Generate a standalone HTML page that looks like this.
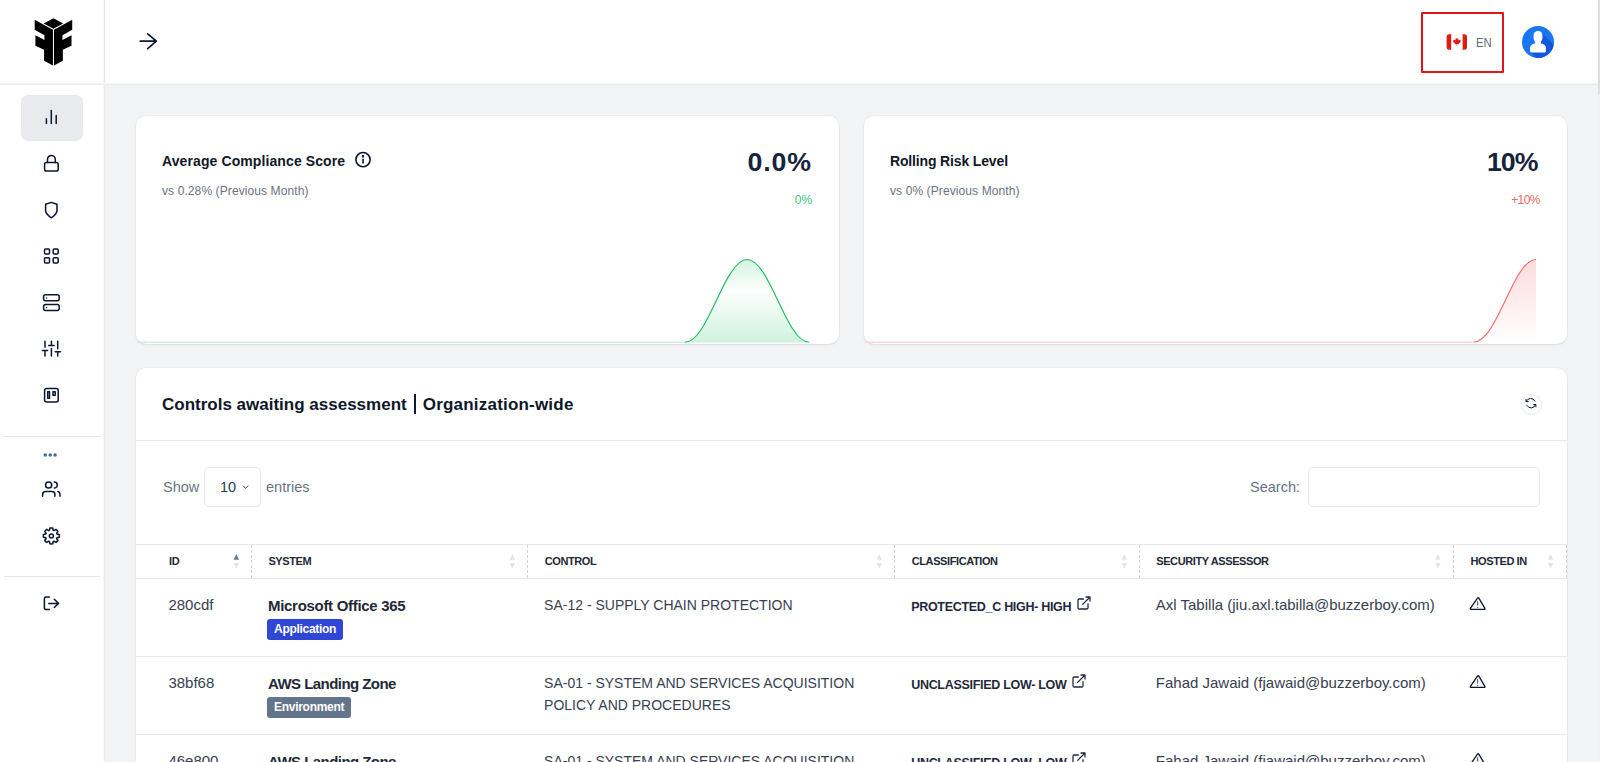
<!DOCTYPE html>
<html><head><meta charset="utf-8">
<style>
*{box-sizing:border-box;margin:0;padding:0}
html,body{width:1600px;height:762px;overflow:hidden}
body{background:#f2f3f5;font-family:"Liberation Sans",sans-serif;color:#111827;position:relative}
.abs{position:absolute}
.ico{position:absolute;fill:none;stroke:#0b1530;stroke-width:1.5;stroke-linecap:round;stroke-linejoin:round}
.card{position:absolute;background:#fff;border-radius:10px;box-shadow:0 0 0 1px rgba(15,23,42,0.025),0 1px 2px rgba(15,23,42,0.08)}
.t{position:absolute;white-space:nowrap;line-height:1}
.ext{display:inline-block;vertical-align:top;margin-top:-5.1px;margin-left:4.5px;fill:none;stroke:#1e293b;stroke-width:1.9;stroke-linecap:round;stroke-linejoin:round}
.badge{position:absolute;height:21px;padding:0 7px 0 6.8px;border-radius:3px;color:#fff;font-size:12px;font-weight:bold;line-height:21px;white-space:nowrap;letter-spacing:-0.3px}
</style></head><body>

<div class="abs" style="left:0;top:0;width:1600px;height:83px;background:#fff"></div>
<div class="abs" style="left:0;top:0;width:103px;height:762px;background:#fff"></div>
<div class="abs" style="left:103px;top:0;width:1px;height:762px;background:#f4f5f7"></div>
<div class="abs" style="left:104px;top:0;width:1px;height:762px;background:#e9eaee"></div>
<div class="abs" style="left:0;top:83px;width:1600px;height:1px;background:#f5f6f8"></div>
<div class="abs" style="left:0;top:84px;width:1600px;height:1px;background:#ebecf0"></div>
<div class="abs" style="left:4px;top:436px;width:96px;height:1px;background:#e5e7eb"></div>
<div class="abs" style="left:4px;top:576px;width:96px;height:1px;background:#e5e7eb"></div>
<div class="abs" style="left:21px;top:95px;width:62px;height:46px;background:#e9eaee;border-radius:7px"></div>
<svg class="abs" style="left:30px;top:15px" width="48" height="55" viewBox="0 0 665 762">
<g fill="#000">
<polygon points="325,45 460,118 325,190 190,118"/>
<polygon points="65,65 318,205 318,700 195,635 195,480 75,425 75,280 200,345 200,280 65,205"/>
<polygon points="585,65 332,205 332,700 455,635 455,480 575,425 575,280 450,345 450,280 585,205"/>
</g></svg>
<svg class="ico" style="left:0;top:0" width="104" height="762" viewBox="0 0 104 762">
<path d="M46.4 118.7V123.5M51.3 110.6V123.5M56.2 115.4V123.5"/>
<rect x="44.6" y="162.6" width="13.6" height="8.5" rx="1.8"/>
<path d="M47.5 162.6V159.4a3.9 3.9 0 0 1 7.8 0V162.6"/>
<path d="M51.3 202.4L45.6 204.3V211Q46.5 214.8 51.3 217.8Q56.1 214.8 57 211V204.3Z"/>
<rect x="44.5" y="248.9" width="5" height="5.1" rx="1"/>
<rect x="53.2" y="248.9" width="5" height="5.1" rx="1"/>
<rect x="44.5" y="257.7" width="5" height="5.3" rx="1"/>
<rect x="53.2" y="257.7" width="5" height="5.3" rx="1"/>
<rect x="43.6" y="294.8" width="15.6" height="6" rx="2"/>
<rect x="43.6" y="304.6" width="15.6" height="5.8" rx="2"/>
<path d="M46.5 298h0.05M46.5 307.5h0.05"/>
<path d="M45 341.2V347.2M45 350.4V356M42.4 350.4H47.6M51.4 341.2V345.4M51.4 348.6V356M48.7 345.4H54.1M57.7 341.2V348.7M57.7 351.8V356M55.3 351.8H60.5"/>
<rect x="44.6" y="388.6" width="13.6" height="13.5" rx="2"/>
<rect x="47.7" y="391.7" width="1.8" height="6.5"/>
<rect x="53" y="391.7" width="2.2" height="3.6"/>
<circle cx="48.6" cy="485" r="3.1"/>
<path d="M54.2 481.9a3.1 3.1 0 0 1 0 6.2"/>
<path d="M42.6 496.3v-1.7a3 3 0 0 1 3-3h6.3a3 3 0 0 1 3 3v1.7"/>
<path d="M57.8 491.6a2.8 2.8 0 0 1 2.2 2.8v1.9"/>
<path d="M49.43 530.32L49.96 528.02A8.00 8.00 0 0 1 52.74 528.02L53.27 530.32A5.90 5.90 0 0 1 53.94 530.60L55.94 529.35A8.00 8.00 0 0 1 57.90 531.31L56.65 533.31A5.90 5.90 0 0 1 56.93 533.98L59.23 534.51A8.00 8.00 0 0 1 59.23 537.29L56.93 537.82A5.90 5.90 0 0 1 56.65 538.49L57.90 540.49A8.00 8.00 0 0 1 55.94 542.45L53.94 541.20A5.90 5.90 0 0 1 53.27 541.48L52.74 543.78A8.00 8.00 0 0 1 49.96 543.78L49.43 541.48A5.90 5.90 0 0 1 48.76 541.20L46.76 542.45A8.00 8.00 0 0 1 44.80 540.49L46.05 538.49A5.90 5.90 0 0 1 45.77 537.82L43.47 537.29A8.00 8.00 0 0 1 43.47 534.51L45.77 533.98A5.90 5.90 0 0 1 46.05 533.31L44.80 531.31A8.00 8.00 0 0 1 46.76 529.35L48.76 530.60A5.90 5.90 0 0 1 49.43 530.32Z"/>
<circle cx="51.35" cy="535.9" r="2"/>
<path d="M49.4 597.1H46a1.6 1.6 0 0 0-1.6 1.6V608a1.6 1.6 0 0 0 1.6 1.6h3.4M48.8 603.4H58.5M54.3 599.3L58.5 603.4L54.3 607.5"/>
</svg>
<svg class="abs" style="left:0;top:440px" width="104" height="30"><g fill="#4d6a99"><circle cx="45.25" cy="15" r="1.75"/><circle cx="50.2" cy="15" r="1.75"/><circle cx="55.1" cy="15" r="1.75"/></g></svg>
<svg class="ico" style="left:136px;top:29px;stroke-width:1.7" width="24" height="24" viewBox="0 0 24 24"><path d="M4.3 12.2H20.3M11.7 4.9L20.3 12.2L11.7 19.6"/></svg>
<div class="abs" style="left:1421px;top:12px;width:83px;height:61px;border:2.5px solid #e0151b;border-radius:1px"></div>
<svg class="abs" style="left:1445.5px;top:34px" width="22" height="16" viewBox="0 0 22 16">
<path d="M5.2 0.3H3.2Q0.6 0.3 0.6 3V13Q0.6 15.7 3.2 15.7H5.2Z" fill="#dd1c14"/>
<path d="M16.6 0.3H18.4Q21 0.3 21 3V13Q21 15.7 18.4 15.7H16.6Z" fill="#dd1c14"/>
<path d="M10.8 3.4l0.8 1.6 0.9-0.4-0.3 2 1.2-1 0.3 0.7 1.1-0.2-0.5 1.4 0.5 0.3-2 1.6 0.3 0.8-1.9-0.3v1.9h-0.6v-1.9l-1.9 0.3 0.3-0.8-2-1.6 0.5-0.3-0.5-1.4 1.1 0.2 0.3-0.7 1.2 1-0.3-2 0.9 0.4z" fill="#dd1c14"/>
</svg>
<div class="t" style="left:1476px;top:35.9px;font-size:13px;color:#5d6877;transform:scaleX(0.87);transform-origin:0 0;">EN</div>
<svg class="abs" style="left:1522.25px;top:25.8px" width="32" height="32" viewBox="0 0 32 32">
<defs><clipPath id="cc"><circle cx="16" cy="16" r="16"/></clipPath></defs>
<circle cx="16" cy="16" r="16" fill="#1a76f0"/>
<path clip-path="url(#cc)" d="M19.8 7L45 32.2L30 47.2L9 26.6Z" fill="#1556dc"/>
<path d="M16 5.1C13.2 5.1 11.5 7 11.5 10C11.5 12.5 11.9 14.5 13.2 16L13.2 17.3C10 18 8 19.5 8 22V25C8 26 9 26.6 10 26.6H22C23 26.6 24 26 24 25V22C24 19.5 22 18 18.8 17.3L18.8 16C20.1 14.5 20.5 12.5 20.5 10C20.5 7 18.8 5.1 16 5.1Z" fill="#fff"/>
</svg>
<div class="card" style="left:136px;top:116px;width:703px;height:228px"></div>
<svg class="abs" style="left:136px;top:250px" width="703" height="94" viewBox="136 250 703 94">
<defs>
<linearGradient id="gg" x1="0" y1="259" x2="0" y2="343" gradientUnits="userSpaceOnUse">
<stop offset="0" stop-color="#22c55e" stop-opacity="0.20"/>
<stop offset="0.38" stop-color="#22c55e" stop-opacity="0.01"/>
<stop offset="1" stop-color="#22c55e" stop-opacity="0.22"/>
</linearGradient></defs>
<path d="M685 342.5C708.1 342.5 724.3 259.5 747.1 259.5C769.9 259.5 786.1 342.5 809.2 342.5Z" fill="url(#gg)"/>
<rect x="137" y="341.6" width="548.5" height="1.2" fill="#c3ead1"/>
<path d="M685 342.2C708.1 342.2 724.3 259.5 747.1 259.5C769.9 259.5 786.1 342.2 809.2 342.2" fill="none" stroke="#1fbb62" stroke-width="1.15"/>
</svg>
<div class="t" style="left:162px;top:153.95px;font-size:14px;font-weight:bold;color:#111827;letter-spacing:0.1px;">Average Compliance Score</div>
<svg class="abs" style="left:354px;top:150.5px" width="18" height="18" viewBox="0 0 18 18" fill="none" stroke="#0b1530" stroke-width="1.6"><circle cx="9" cy="8.6" r="7.1"/><path d="M9 8.3V11.9" stroke-linecap="round"/><circle cx="9" cy="5.3" r="0.55" fill="#0b1530"/></svg>
<div class="t" style="left:162px;top:184.64px;font-size:12px;color:#6b7280;letter-spacing:0.1px;">vs 0.28% (Previous Month)</div>
<div class="t" style="left:747.6px;top:149.1px;font-size:26.7px;font-weight:bold;color:#15233d;letter-spacing:0.85px;">0.0%</div>
<div class="t" style="left:794.8px;top:193.94px;font-size:12px;color:#3dc27a;">0%</div>
<div class="card" style="left:864px;top:116px;width:703px;height:228px"></div>
<svg class="abs" style="left:864px;top:250px" width="703" height="94" viewBox="864 250 703 94">
<defs>
<linearGradient id="rg" x1="0" y1="259" x2="0" y2="343" gradientUnits="userSpaceOnUse">
<stop offset="0" stop-color="#ef4444" stop-opacity="0.19"/>
<stop offset="1" stop-color="#ef4444" stop-opacity="0.0"/>
</linearGradient></defs>
<path d="M1473.9 342.5C1497 342.5 1513.2 259.5 1536 259.5V342.5Z" fill="url(#rg)"/>
<rect x="865" y="341.6" width="609" height="1.2" fill="#fbd0d0"/>
<path d="M1473.9 342.2C1497 342.2 1513.2 259.5 1536 259.5" fill="none" stroke="#f87171" stroke-width="1.2"/>
</svg>
<div class="t" style="left:890px;top:154.15px;font-size:14px;font-weight:bold;color:#111827;letter-spacing:-0.15px;">Rolling Risk Level</div>
<div class="t" style="left:890px;top:184.64px;font-size:12px;color:#6b7280;letter-spacing:0.1px;">vs 0% (Previous Month)</div>
<div class="t" style="left:1487px;top:148.7px;font-size:26.7px;font-weight:bold;color:#15233d;letter-spacing:-1.0px;">10%</div>
<div class="t" style="left:1511.2px;top:193.74px;font-size:12px;color:#f06565;letter-spacing:-0.6px;">+10%</div>
<div class="card" style="left:136px;top:368px;width:1431px;height:430px"></div>
<div class="t" style="left:162px;top:396.21px;font-size:17px;font-weight:bold;color:#0f172a;">Controls awaiting assessment</div>
<div class="abs" style="left:413.7px;top:394.3px;width:2.1px;height:19.5px;background:#0f172a"></div>
<div class="t" style="left:422.8px;top:396.21px;font-size:17px;font-weight:bold;color:#0f172a;letter-spacing:0.2px;">Organization-wide</div>
<div class="abs" style="left:1521px;top:394px;width:21px;height:21px;border:1px solid #e5e7eb;border-radius:50%"></div>
<svg class="ico" style="left:1520px;top:393px;stroke-width:1" width="22" height="22" viewBox="1520 393 22 22"><path d="M1526.2 401.4A4.8 4.8 0 0 1 1534.9 401.1M1526 399.4V401.6H1528.3M1526.9 405.5A4.8 4.8 0 0 0 1535.6 404.6M1535.9 406.9V404.6H1533.6"/></svg>
<div class="abs" style="left:136px;top:440px;width:1431px;height:1px;background:#e8eaee"></div>
<div class="t" style="left:163px;top:480.33px;font-size:14.5px;color:#6b7280;">Show</div>
<div class="abs" style="left:204px;top:467px;width:57px;height:40px;border:1px solid #e5e7eb;border-radius:5px"></div>
<div class="t" style="left:220px;top:480.33px;font-size:14.5px;color:#2d3a4f;">10</div>
<svg class="abs" style="left:241px;top:483px" width="8" height="8" viewBox="0 0 8 8" fill="none" stroke="#374151" stroke-width="1"><path d="M2 2.6L4.6 5.4L7.2 2.6"/></svg>
<div class="t" style="left:266px;top:480.33px;font-size:14.5px;color:#6b7280;">entries</div>
<div class="t" style="left:1250px;top:480.33px;font-size:14.5px;color:#6b7280;">Search:</div>
<div class="abs" style="left:1308px;top:467px;width:232px;height:40px;border:1px solid #e5e7eb;border-radius:5px"></div>
<div class="abs" style="left:136px;top:544px;width:1431px;height:1px;background:#e5e7eb"></div>
<div class="abs" style="left:136px;top:578px;width:1431px;height:1px;background:#e5e7eb"></div>
<div class="abs" style="left:251px;top:545px;width:0;height:33px;border-left:1px dashed #cfd3da"></div>
<div class="abs" style="left:527px;top:545px;width:0;height:33px;border-left:1px dashed #cfd3da"></div>
<div class="abs" style="left:894px;top:545px;width:0;height:33px;border-left:1px dashed #cfd3da"></div>
<div class="abs" style="left:1139px;top:545px;width:0;height:33px;border-left:1px dashed #cfd3da"></div>
<div class="abs" style="left:1453px;top:545px;width:0;height:33px;border-left:1px dashed #cfd3da"></div>
<div class="abs" style="left:1566px;top:545px;width:0;height:33px;border-left:1px dashed #cfd3da"></div>
<div class="t" style="left:169px;top:555.89px;font-size:11px;font-weight:bold;color:#1f2937;letter-spacing:-0.4px;">ID</div>
<div class="t" style="left:268.4px;top:555.89px;font-size:11px;font-weight:bold;color:#1f2937;letter-spacing:-0.4px;">SYSTEM</div>
<div class="t" style="left:544.7px;top:555.89px;font-size:11px;font-weight:bold;color:#1f2937;letter-spacing:-0.4px;">CONTROL</div>
<div class="t" style="left:911.75px;top:555.89px;font-size:11px;font-weight:bold;color:#1f2937;letter-spacing:-0.4px;">CLASSIFICATION</div>
<div class="t" style="left:1156.25px;top:555.89px;font-size:11px;font-weight:bold;color:#1f2937;letter-spacing:-0.4px;">SECURITY ASSESSOR</div>
<div class="t" style="left:1470.5px;top:555.89px;font-size:11px;font-weight:bold;color:#1f2937;letter-spacing:-0.4px;">HOSTED IN</div>
<svg class="abs" style="left:0;top:551px" width="1600" height="20"><g fill="#e1e4e8"><path d="M509.7 8.8L512.4 3.1L515.1 8.8ZM509.7 11.9L512.4 17.8L515.1 11.9Z"/><path d="M876.5999999999999 8.8L879.3 3.1L882.0 8.8ZM876.5999999999999 11.9L879.3 17.8L882.0 11.9Z"/><path d="M1121.6 8.8L1124.3 3.1L1127.0 8.8ZM1121.6 11.9L1124.3 17.8L1127.0 11.9Z"/><path d="M1435.3 8.8L1438 3.1L1440.7 8.8ZM1435.3 11.9L1438 17.8L1440.7 11.9Z"/><path d="M1547.8999999999999 8.8L1550.6 3.1L1553.3 8.8ZM1547.8999999999999 11.9L1550.6 17.8L1553.3 11.9Z"/><path d="M233.7 11.9L236.4 17.8L239.1 11.9Z"/></g><path d="M233.7 8.8L236.4 3.1L239.1 8.8Z" fill="#6b7a8c"/></svg>
<div class="t" style="left:168.4px;top:597.3px;font-size:15px;color:#374151;">280cdf</div>
<div class="t" style="left:268px;top:598.1px;font-size:15px;font-weight:bold;color:#1f2937;letter-spacing:-0.3px;">Microsoft Office 365</div>
<div class="badge" style="left:267.3px;top:618.5px;background:#3047d5">Application</div>
<div class="t" style="left:544.1px;top:597.75px;font-size:14px;color:#374151;">SA-12 - SUPPLY CHAIN PROTECTION</div>
<div class="t" style="left:911.2px;top:600.52px;font-size:12.5px;font-weight:bold;color:#1e293b;letter-spacing:-0.3px;">PROTECTED_C HIGH- HIGH<svg class="ext" width="16" height="16" viewBox="0 0 24 24"><path d="M18 13v6a2 2 0 0 1-2 2H5a2 2 0 0 1-2-2V8a2 2 0 0 1 2-2h6M15 3h6v6M10 14L21 3"/></svg></div>
<div class="t" style="left:1155.8px;top:597.3px;font-size:15px;color:#374151;">Axl Tabilla (jiu.axl.tabilla@buzzerboy.com)</div>
<svg class="ico" style="left:1464px;top:590px;stroke-width:1.3" width="28" height="26" viewBox="1464 590 28 26"><path d="M1477.65 597.9Q1478.2 597.3 1478.7 597.9L1484.9 608.4Q1485.3 609.4 1484.3 609.4H1471Q1470 609.4 1470.4 608.4Z"/><path d="M1477.65 601.6V605M1477.65 607.3V607.4" stroke-width="1.1" stroke="#4b5563"/></svg>
<div class="abs" style="left:136px;top:656px;width:1431px;height:1px;background:#e8eaee"></div>
<div class="t" style="left:168.4px;top:675.3px;font-size:15px;color:#374151;">38bf68</div>
<div class="t" style="left:268px;top:676.1px;font-size:15px;font-weight:bold;color:#1f2937;letter-spacing:-0.55px;">AWS Landing Zone</div>
<div class="badge" style="left:267.3px;top:696.5px;background:#64748b">Environment</div>
<div class="t" style="left:544.1px;top:675.75px;font-size:14px;color:#374151;">SA-01 - SYSTEM AND SERVICES ACQUISITION</div>
<div class="t" style="left:544.1px;top:698.25px;font-size:14px;color:#374151;">POLICY AND PROCEDURES</div>
<div class="t" style="left:911.2px;top:678.52px;font-size:12.5px;font-weight:bold;color:#1e293b;letter-spacing:-0.3px;">UNCLASSIFIED LOW- LOW<svg class="ext" width="16" height="16" viewBox="0 0 24 24"><path d="M18 13v6a2 2 0 0 1-2 2H5a2 2 0 0 1-2-2V8a2 2 0 0 1 2-2h6M15 3h6v6M10 14L21 3"/></svg></div>
<div class="t" style="left:1155.8px;top:675.3px;font-size:15px;color:#374151;">Fahad Jawaid (fjawaid@buzzerboy.com)</div>
<svg class="ico" style="left:1464px;top:668px;stroke-width:1.3" width="28" height="26" viewBox="1464 590 28 26"><path d="M1477.65 597.9Q1478.2 597.3 1478.7 597.9L1484.9 608.4Q1485.3 609.4 1484.3 609.4H1471Q1470 609.4 1470.4 608.4Z"/><path d="M1477.65 601.6V605M1477.65 607.3V607.4" stroke-width="1.1" stroke="#4b5563"/></svg>
<div class="abs" style="left:136px;top:734px;width:1431px;height:1px;background:#e8eaee"></div>
<div class="t" style="left:168.4px;top:753.3px;font-size:15px;color:#374151;">46e800</div>
<div class="t" style="left:268px;top:754.1px;font-size:15px;font-weight:bold;color:#1f2937;letter-spacing:-0.55px;">AWS Landing Zone</div>
<div class="badge" style="left:267.3px;top:774.5px;background:#64748b">Environment</div>
<div class="t" style="left:544.1px;top:753.75px;font-size:14px;color:#374151;">SA-01 - SYSTEM AND SERVICES ACQUISITION</div>
<div class="t" style="left:544.1px;top:776.25px;font-size:14px;color:#374151;">POLICY AND PROCEDURES</div>
<div class="t" style="left:911.2px;top:756.52px;font-size:12.5px;font-weight:bold;color:#1e293b;letter-spacing:-0.3px;">UNCLASSIFIED LOW- LOW<svg class="ext" width="16" height="16" viewBox="0 0 24 24"><path d="M18 13v6a2 2 0 0 1-2 2H5a2 2 0 0 1-2-2V8a2 2 0 0 1 2-2h6M15 3h6v6M10 14L21 3"/></svg></div>
<div class="t" style="left:1155.8px;top:753.3px;font-size:15px;color:#374151;">Fahad Jawaid (fjawaid@buzzerboy.com)</div>
<svg class="ico" style="left:1464px;top:746px;stroke-width:1.3" width="28" height="26" viewBox="1464 590 28 26"><path d="M1477.65 597.9Q1478.2 597.3 1478.7 597.9L1484.9 608.4Q1485.3 609.4 1484.3 609.4H1471Q1470 609.4 1470.4 608.4Z"/><path d="M1477.65 601.6V605M1477.65 607.3V607.4" stroke-width="1.1" stroke="#4b5563"/></svg>
<div class="abs" style="left:1598px;top:0;width:2px;height:762px;background:#f0f1f3"></div>
<div class="abs" style="left:1598px;top:0;width:2px;height:94px;background:#dcdee2"></div>
</body></html>
